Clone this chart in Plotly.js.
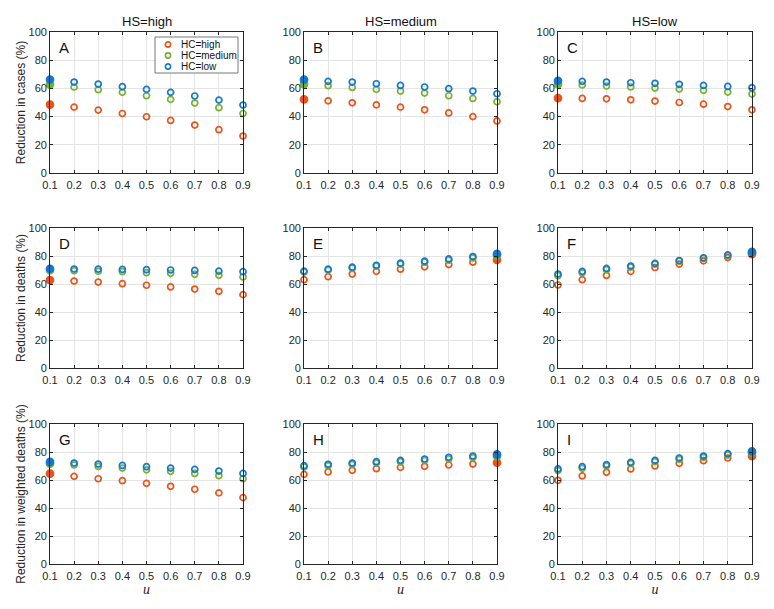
<!DOCTYPE html>
<html><head><meta charset="utf-8">
<script src="https://cdn.plot.ly/plotly-3.0.1.min.js"></script>
<style>html,body{margin:0;padding:0;background:#fff}#chart{width:774px;height:609px}</style>
</head><body><div id="chart"></div>
<script>
// ---------- data ----------
const u = [0.1, 0.2, 0.3, 0.4, 0.5, 0.6, 0.7, 0.8, 0.9];
const xTickLabels = ['0.1','0.2','0.3','0.4','0.5','0.6','0.7','0.8','0.9'];
const yTickValues = [0, 20, 40, 60, 80, 100];
const hcLabels = ['HC=high', 'HC=medium', 'HC=low'];
const hsLabels = ['HS=high', 'HS=medium', 'HS=low'];
const panelLetters = ['A','B','C','D','E','F','G','H','I'];
const yTitles = ['Reduction in cases (%)', 'Reduction in deaths (%)', 'Reduction in weighted deaths (%)'];
const xTitle = 'u';

// Reduction in cases
const A_high = [48.5, 46.7, 44.6, 42.2, 39.9, 37.3, 34.0, 30.7, 26.2];
const A_med  = [62.7, 60.9, 59.1, 57.2, 54.8, 52.2, 49.6, 46.3, 42.2];
const A_low  = [66.3, 64.5, 63.1, 61.2, 59.3, 57.2, 54.6, 51.7, 48.2];
const B_high = [52.2, 51.2, 49.8, 48.3, 46.7, 44.8, 42.6, 40.0, 36.9];
const B_med  = [62.9, 61.9, 60.7, 59.3, 58.1, 56.7, 54.8, 52.9, 50.5];
const B_low  = [66.2, 65.0, 64.5, 63.3, 62.1, 61.0, 59.8, 58.1, 56.2];
const C_high = [53.1, 52.9, 52.6, 51.9, 51.0, 50.0, 48.8, 47.1, 44.8];
const C_med  = [62.9, 62.4, 61.7, 61.0, 60.2, 59.5, 58.6, 57.4, 56.0];
const C_low  = [65.4, 65.0, 64.5, 64.0, 63.6, 62.9, 62.1, 61.4, 60.5];
// Reduction in deaths
const D_high = [62.8, 62.1, 61.4, 60.2, 59.1, 57.9, 56.4, 54.8, 52.4];
const D_med  = [69.9, 69.5, 69.0, 68.8, 68.1, 67.6, 66.9, 66.2, 65.0];
const D_low  = [70.9, 70.7, 70.6, 70.4, 70.2, 70.0, 69.7, 69.2, 68.8];
const E_high = [63.1, 65.2, 67.1, 69.0, 70.6, 72.3, 73.9, 75.6, 77.2];
const E_med  = [68.5, 69.9, 71.3, 72.7, 74.2, 75.6, 77.0, 78.6, 80.3];
const E_low  = [69.2, 70.6, 72.0, 73.4, 74.9, 76.3, 77.9, 79.6, 81.5];
const F_high = [59.3, 63.1, 66.1, 69.0, 71.8, 74.2, 76.5, 78.9, 81.3];
const F_med  = [65.9, 68.0, 70.2, 72.1, 74.2, 76.3, 78.2, 80.3, 82.5];
const F_low  = [67.1, 69.0, 71.1, 72.8, 74.7, 76.8, 78.7, 80.8, 82.9];
// Reduction in weighted deaths
const G_high = [64.5, 62.6, 60.9, 59.5, 57.6, 55.5, 53.4, 50.8, 47.4];
const G_med  = [71.6, 70.7, 69.7, 68.5, 67.3, 66.2, 64.7, 63.1, 60.9];
const G_low  = [72.9, 72.1, 71.4, 70.4, 69.5, 68.5, 67.6, 66.4, 64.7];
const H_high = [64.0, 65.7, 66.9, 68.1, 69.0, 69.8, 70.7, 71.4, 72.4];
const H_med  = [69.3, 70.2, 71.2, 72.1, 73.1, 74.0, 75.0, 76.0, 76.9];
const H_low  = [70.2, 71.2, 72.1, 73.1, 74.0, 75.0, 76.2, 77.1, 78.3];
const I_high = [59.8, 62.9, 65.5, 67.9, 70.0, 71.9, 73.8, 75.7, 77.1];
const I_med  = [66.7, 68.3, 70.0, 71.7, 73.1, 74.8, 76.2, 77.9, 79.5];
const I_low  = [67.9, 69.5, 71.0, 72.6, 74.0, 75.7, 77.1, 78.8, 80.5];

const panelSeries = [
  [A_high, A_med, A_low], [B_high, B_med, B_low], [C_high, C_med, C_low],
  [D_high, D_med, D_low], [E_high, E_med, E_low], [F_high, F_med, F_low],
  [G_high, G_med, G_low], [H_high, H_med, H_low], [I_high, I_med, I_low]
];

// ---------- style ----------
const W = 774, H = 609;
const colors = ['#E4561B', '#79B032', '#1479CC'];
const axisColor = '#262626';
const gridColor = '#e4e4e4';
const fontFam = 'Liberation Sans, Arial, sans-serif';
// panel pixel boxes
const colPx = [[50, 243], [304, 497], [558, 752]];
const rowPx = [[32, 173], [228, 368], [424, 564]];
const px2x = p => p / W;
const px2y = p => 1 - p / H;

const data = [];
const layout = {
  width: W, height: H,
  margin: {l: 0, r: 0, t: 0, b: 0},
  paper_bgcolor: '#fff', plot_bgcolor: '#fff',
  showlegend: false,
  font: {family: fontFam, size: 11, color: axisColor},
  annotations: [], shapes: []
};

panelSeries.forEach((series, i) => {
  const r = Math.floor(i / 3), c = i % 3;
  const n = i + 1;
  const xa = 'xaxis' + (n === 1 ? '' : n), ya = 'yaxis' + (n === 1 ? '' : n);
  const xr = 'x' + (n === 1 ? '' : n), yr = 'y' + (n === 1 ? '' : n);
  series.forEach((vals, s) => {
    const imax = vals.indexOf(Math.max(...vals));
    data.push({
      type: 'scatter', mode: 'markers', x: u, y: vals,
      xaxis: xr, yaxis: yr, name: hcLabels[s], cliponaxis: false,
      marker: {
        symbol: vals.map((v, k) => k === imax ? 'circle' : 'circle-open'),
        size: vals.map((v, k) => k === imax ? 7 : 6),
        opacity: 1,
        color: colors[s], line: {color: colors[s], width: 1.7}
      },
      hoverinfo: 'x+y+name'
    });
  });
  layout[xa] = {
    domain: [px2x(colPx[c][0]), px2x(colPx[c][1])],
    anchor: yr, range: [0.1, 0.9], tickvals: u, ticktext: xTickLabels,
    showgrid: true, gridcolor: gridColor, gridwidth: 1, zeroline: false,
    showline: true, linecolor: axisColor, linewidth: 0.8, mirror: 'ticks',
    ticks: 'inside', ticklen: 3, tickcolor: axisColor, tickwidth: 0.8,
    ticklabelstandoff: 2,
    tickfont: {family: fontFam, size: 11, color: axisColor}, automargin: false,
    fixedrange: true
  };
  if (r === 2) {
    layout[xa].title = {text: xTitle, standoff: 2,
      font: {family: 'Liberation Serif, DejaVu Serif, serif', size: 14, color: axisColor, style: 'italic'}};
  }
  layout[ya] = {
    domain: [px2y(rowPx[r][1]), px2y(rowPx[r][0])],
    anchor: xr, range: [0, 100], tickvals: yTickValues,
    showgrid: true, gridcolor: gridColor, gridwidth: 1, zeroline: false,
    showline: true, linecolor: axisColor, linewidth: 0.8, mirror: 'ticks',
    ticks: 'inside', ticklen: 3, tickcolor: axisColor, tickwidth: 0.8,
    tickfont: {family: fontFam, size: 11, color: axisColor}, automargin: false,
    fixedrange: true
  };
  if (c === 0) {
    layout[ya].title = {text: yTitles[r], standoff: 0,
      font: {family: fontFam, size: 12, color: axisColor}};
  }
  // panel letter
  layout.annotations.push({
    text: panelLetters[i], xref: xr + ' domain', yref: yr + ' domain',
    x: 0.035, y: 0.965, xanchor: 'left', yanchor: 'top', showarrow: false,
    font: {family: fontFam, size: 15, color: '#111'}
  });
  // column titles
  if (r === 0) {
    layout.annotations.push({
      text: hsLabels[c], xref: 'paper', yref: 'paper',
      x: px2x((colPx[c][0] + colPx[c][1]) / 2), y: px2y(rowPx[0][0] - 1),
      xanchor: 'center', yanchor: 'bottom', showarrow: false,
      font: {family: fontFam, size: 13, color: '#111'}
    });
  }
});

// ---------- legend box in panel A ----------
const leg = {x0: 155, x1: 238, y0: 37, y1: 73};
layout.shapes.push({type: 'rect', xref: 'paper', yref: 'paper',
  x0: px2x(leg.x0), x1: px2x(leg.x1), y0: px2y(leg.y1), y1: px2y(leg.y0),
  line: {color: '#555', width: 0.8}, fillcolor: '#fff', layer: 'above'});
hcLabels.forEach((lab, s) => {
  const cy = leg.y0 + 7.5 + s * 11, cx = leg.x0 + 13, rad = 2.6;
  layout.shapes.push({type: 'circle', xref: 'paper', yref: 'paper',
    x0: px2x(cx - rad), x1: px2x(cx + rad), y0: px2y(cy + rad), y1: px2y(cy - rad),
    line: {color: colors[s], width: 1.6}, layer: 'above'});
  layout.annotations.push({text: lab, xref: 'paper', yref: 'paper',
    x: px2x(leg.x0 + 25), y: px2y(cy), xanchor: 'left', yanchor: 'middle',
    showarrow: false, borderpad: 0, font: {family: fontFam, size: 10, color: '#111'}});
});

Plotly.newPlot('chart', data, layout, {displayModeBar: false, staticPlot: false});
</script>
</body></html>
